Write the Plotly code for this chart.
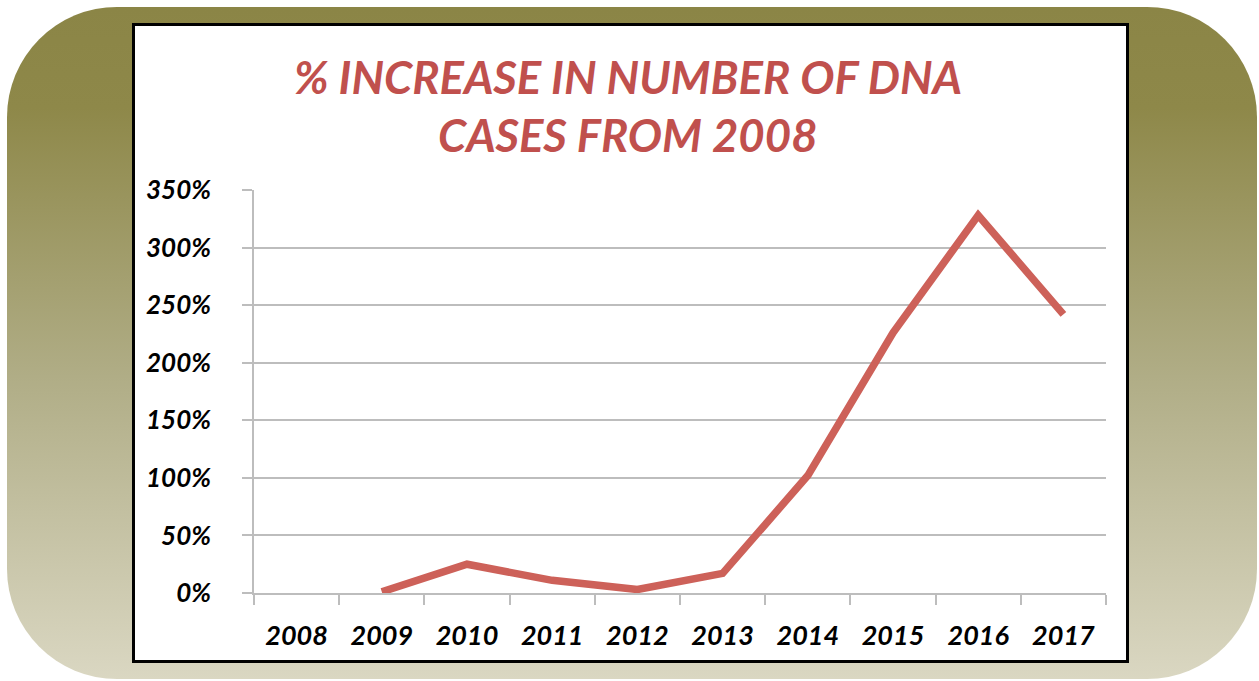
import base64
import plotly.graph_objects as go

years = ["2008", "2009", "2010", "2011", "2012", "2013", "2014", "2015", "2016", "2017"]
pct_increase = [None, 1, 25, 11, 3, 17, 102, 226, 328, 242]
y_ticks = [0, 50, 100, 150, 200, 250, 300, 350]
y_tick_labels = [f"{v}%" for v in y_ticks]
title_lines = ["% INCREASE IN NUMBER OF DNA", "CASES FROM 2008"]

W, H = 1259, 681
L, R, T, B = 254, 153, 190, 88
pw, ph = W - L - R, H - T - B

svg = f'''<svg xmlns="http://www.w3.org/2000/svg" width="{W}" height="{H}" viewBox="0 0 {W} {H}">
<defs><linearGradient id="g" x1="0" y1="0" x2="0" y2="1">
<stop offset="0" stop-color="#8B8546"/><stop offset="0.15" stop-color="#8E8849"/>
<stop offset="0.55" stop-color="#B0AD86"/><stop offset="1" stop-color="#DAD7C2"/></linearGradient></defs>
<rect x="7" y="7" width="1250" height="672" rx="110" ry="110" fill="url(#g)"/>
<rect x="135" y="26" width="993" height="636" fill="#3a3a30" opacity="0.35"/>
<rect x="133.5" y="24.5" width="994" height="637" fill="#FFFFFF" stroke="#000000" stroke-width="3"/>
</svg>'''
src = "data:image/svg+xml;base64," + base64.b64encode(svg.encode()).decode()

fig = go.Figure()
fig.add_trace(go.Scatter(
    x=years, y=pct_increase, mode="lines",
    line=dict(color="#CD6159", width=7.5),
    connectgaps=False, hoverinfo="x+y", showlegend=False,
))

fig.add_layout_image(dict(
    source=src, xref="paper", yref="paper",
    x=-L / pw, y=(ph + T) / ph, sizex=W / pw, sizey=H / ph,
    xanchor="left", yanchor="top", sizing="stretch", layer="below",
))

title_font = dict(family="Lato", size=45.5, color="#C0504D", weight="bold", style="italic")
for i, line in enumerate(title_lines):
    fig.add_annotation(
        text=line, xref="paper", yref="paper",
        x=(628 - L) / pw, y=(H - B - (76 + 58 * i)) / ph,
        xanchor="center", yanchor="middle", showarrow=False, font=title_font,
    )

x_tick_font = dict(family="Lato", size=27, color="#000000", weight="bold", style="italic")
y_tick_font = dict(family="Lato", size=26, color="#000000", weight="bold", style="italic")
fig.update_layout(
    width=W, height=H,
    margin=dict(l=L, r=R, t=T, b=B, pad=0),
    paper_bgcolor="#FFFFFF", plot_bgcolor="rgba(0,0,0,0)",
    xaxis=dict(
        type="category", range=[-0.5, 9.5], tickson="boundaries",
        ticks="outside", ticklen=10, tickcolor="#BDBDBD", tickwidth=1.5,
        showline=True, linecolor="#BDBDBD", linewidth=1.5,
        showgrid=False, zeroline=False, tickfont=x_tick_font,
        ticklabelstandoff=18,
    ),
    yaxis=dict(
        range=[0, 350], tickvals=y_ticks, ticktext=y_tick_labels,
        ticks="outside", ticklen=10, tickcolor="#BDBDBD", tickwidth=1.5,
        showline=True, linecolor="#BDBDBD", linewidth=1.5,
        showgrid=True, gridcolor="#BDBDBD", gridwidth=1.5,
        zeroline=False, tickfont=y_tick_font, ticklabelstandoff=26,
    ),
)

fig.write_html("out.html")
